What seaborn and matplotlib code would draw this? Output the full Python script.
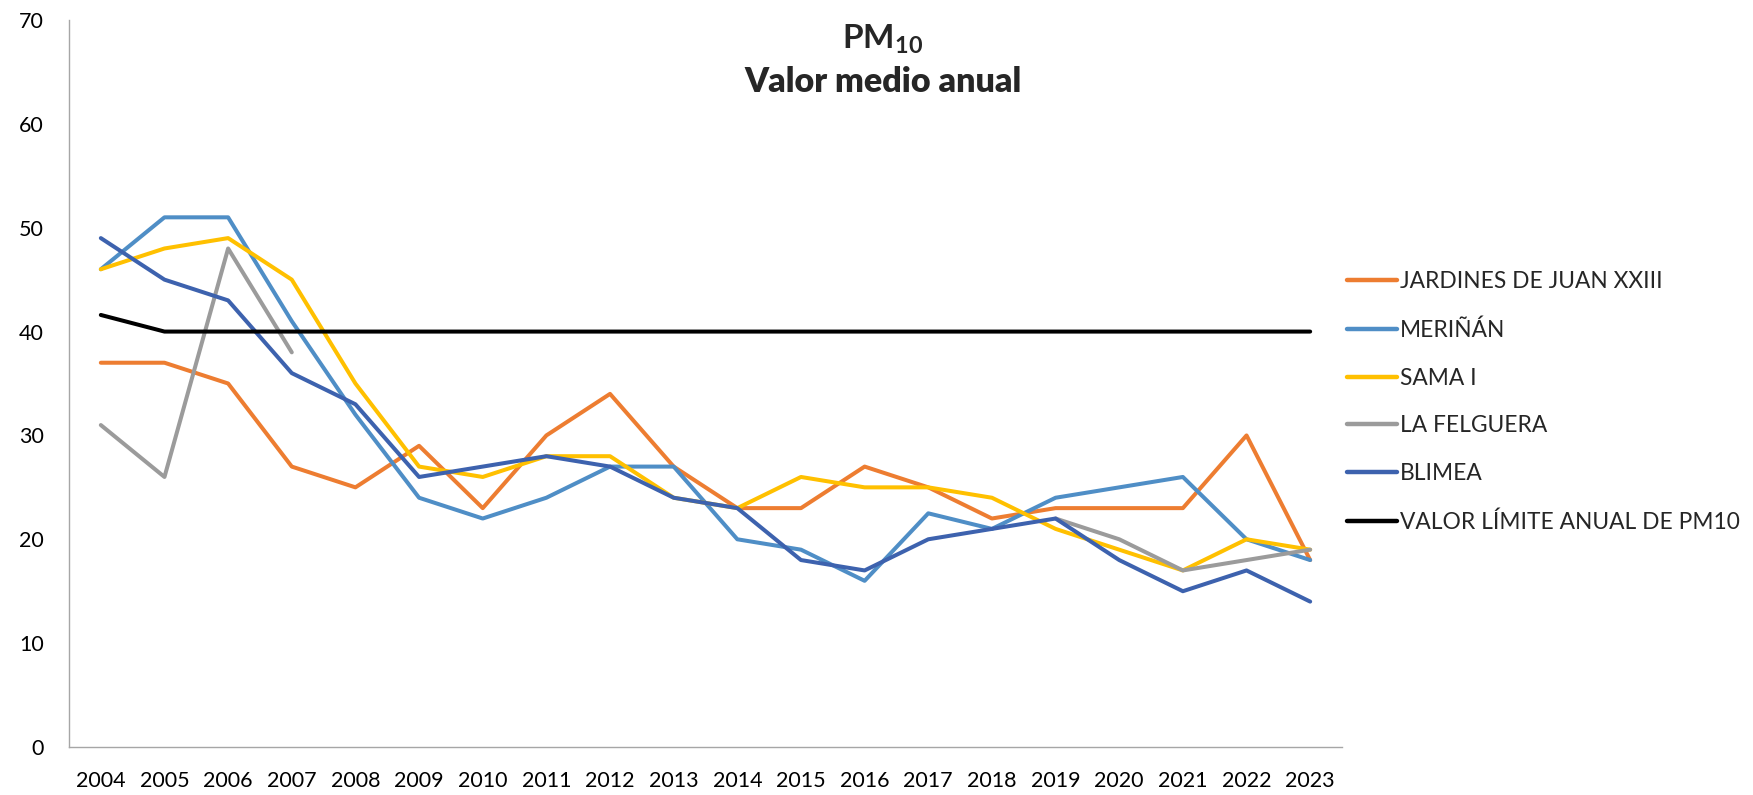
import numpy as np
import pandas as pd
import matplotlib
matplotlib.use("Agg")
import matplotlib.pyplot as plt
import seaborn as sns

# Datos (valor medio anual de PM10, µg/m³)
anios = [str(a) for a in range(2004, 2024)]
jardines = [37, 37, 35, 27, 25, 29, 23, 30, 34, 27, 23, 23, 27, 25, 22, 23, 23, 23, 30, 18]
merinan = [46, 51, 51, 41, 32, 24, 22, 24, 27, 27, 20, 19, 16, 22.5, 21, 24, 25, 26, 20, 18]
sama = [46, 48, 49, 45, 35, 27, 26, 28, 28, 24, 23, 26, 25, 25, 24, 21, 19, 17, 20, 19]
felguera = [31, 26, 48, 38, np.nan, np.nan, np.nan, np.nan, np.nan, np.nan, np.nan, np.nan,
            np.nan, np.nan, np.nan, 22, 20, 17, 18, 19]
blimea = [49, 45, 43, 36, 33, 26, 27, 28, 27, 24, 23, 18, 17, 20, 21, 22, 18, 15, 17, 14]
limite = [41.6] + [40] * 19

series = {
    "JARDINES DE JUAN XXIII": jardines,
    "MERIÑÁN": merinan,
    "SAMA I": sama,
    "LA FELGUERA": felguera,
    "BLIMEA": blimea,
    "VALOR LÍMITE ANUAL DE PM10": limite,
}
colores = ["#ED7D31", "#4F8EC6", "#FFC000", "#9B9B9B", "#3D62AE", "#000000"]

# tabla larga; los huecos (NaN) separan tramos
filas = []
for nombre, valores in series.items():
    tramo = 0
    for i, v in enumerate(valores):
        if np.isnan(v):
            tramo += 1
            continue
        filas.append({"idx": i, "valor": v, "estacion": nombre, "tramo": f"{nombre}-{tramo}"})
df = pd.DataFrame(filas)

sns.set_style("white")
plt.rcParams["font.family"] = ["Lato", "DejaVu Sans"]
plt.rcParams["mathtext.fontset"] = "custom"
plt.rcParams["mathtext.bf"] = "Lato:bold"
plt.rcParams["mathtext.rm"] = "Lato"

fig = plt.figure(figsize=(17.53, 7.95), dpi=100)
ax = fig.add_axes([69 / 1753, 1 - 747 / 795, (1342 - 69) / 1753, (747 - 20) / 795])

sns.lineplot(data=df, x="idx", y="valor", hue="estacion", units="tramo", estimator=None,
             hue_order=list(series.keys()), palette=colores, linewidth=2.9,
             sort=False, ax=ax, legend=True)

ax.set_xlim(-0.5, len(anios) - 0.5)
ax.set_ylim(0, 70)
ax.set_yticks(range(0, 71, 10))
ax.set_xticks(range(len(anios)))
ax.set_xticklabels(anios)
ax.set_xlabel("")
ax.set_ylabel("")
ax.tick_params(axis="both", length=0, labelsize=15.5, colors="#000000")
ax.tick_params(axis="y", pad=18)
ax.tick_params(axis="x", pad=17)
for lado in ["top", "right"]:
    ax.spines[lado].set_visible(False)
for lado in ["left", "bottom"]:
    ax.spines[lado].set_color("#A6A6A6")
    ax.spines[lado].set_linewidth(1.0)

handles, labels = ax.get_legend_handles_labels()
for h in handles:
    h.set_linewidth(3.2)
ax.get_legend().remove()
fig.legend(handles, labels, loc="center left", bbox_to_anchor=(1326 / 1753, 1 - 402 / 795),
           frameon=False, fontsize=16.4, handlelength=2.2, handletextpad=0.15,
           labelspacing=1.18)

fig.text(883 / 1753, 1 - 39 / 795, r"$\mathbf{PM_{10}}$", ha="center", va="center", fontsize=24)
fig.text(883 / 1753, 1 - 82 / 795, "Valor medio anual", ha="center", va="center",
         fontsize=24.5, fontweight="heavy")

fig.savefig("out.png", dpi=100)
